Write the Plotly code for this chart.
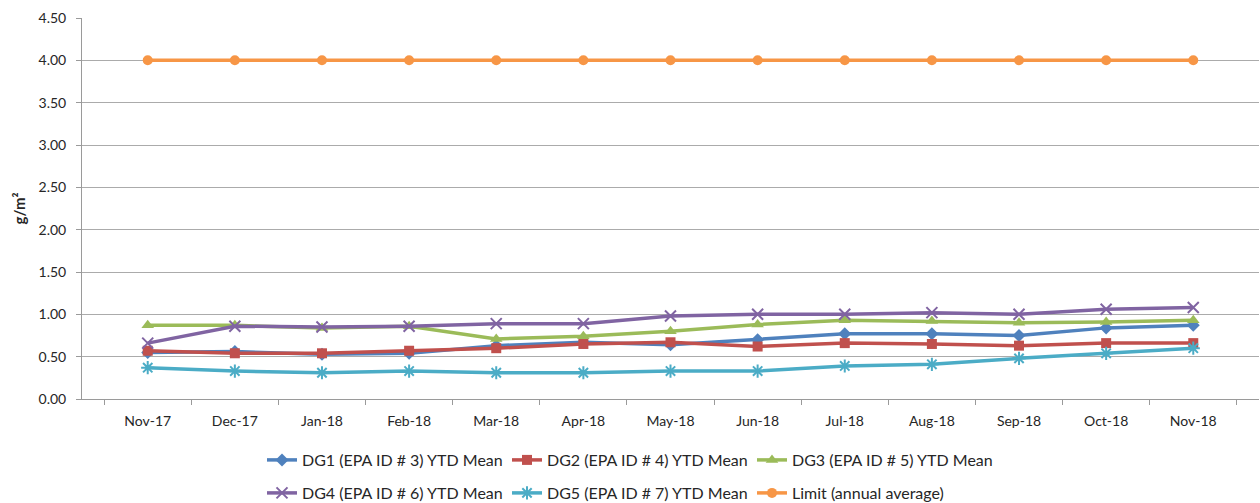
import plotly.graph_objects as go

months = ["Nov-17", "Dec-17", "Jan-18", "Feb-18", "Mar-18", "Apr-18", "May-18",
          "Jun-18", "Jul-18", "Aug-18", "Sep-18", "Oct-18", "Nov-18"]

dg1 = [0.55, 0.56, 0.53, 0.54, 0.63, 0.67, 0.64, 0.70, 0.77, 0.77, 0.75, 0.84, 0.87]
dg2 = [0.57, 0.54, 0.54, 0.57, 0.60, 0.65, 0.67, 0.62, 0.66, 0.65, 0.63, 0.66, 0.66]
dg3 = [0.87, 0.87, 0.84, 0.86, 0.71, 0.74, 0.80, 0.88, 0.93, 0.92, 0.90, 0.91, 0.93]
dg4 = [0.66, 0.86, 0.85, 0.86, 0.89, 0.89, 0.98, 1.00, 1.00, 1.02, 1.00, 1.06, 1.08]
dg5 = [0.37, 0.33, 0.31, 0.33, 0.31, 0.31, 0.33, 0.33, 0.39, 0.41, 0.48, 0.54, 0.60]
limit = [4.0] * 13
y_title = "g/m²"

series = [
    ("DG1 (EPA ID # 3) YTD Mean", dg1, "#4F81BD", "diamond", 10, "legend"),
    ("DG2 (EPA ID # 4) YTD Mean", dg2, "#C0504D", "square", 10, "legend"),
    ("DG3 (EPA ID # 5) YTD Mean", dg3, "#9BBB59", "triangle-up", 11, "legend"),
    ("DG4 (EPA ID # 6) YTD Mean", dg4, "#8064A2", "x-thin-open", 11, "legend2"),
    ("DG5 (EPA ID # 7) YTD Mean", dg5, "#4BACC6", "asterisk-open", 11, "legend2"),
    ("Limit (annual average)", limit, "#F79646", "circle", 10, "legend2"),
]

fig = go.Figure()
for name, vals, color, sym, size, leg in series:
    fig.add_trace(go.Scatter(
        x=months, y=vals, name=name, mode="lines+markers", legend=leg,
        line=dict(color=color, width=3.5),
        marker=dict(symbol=sym, size=size, color=color,
                    line=dict(color=color, width=2 if "open" in sym else 0)),
    ))

font = "Lato"
leg_common = dict(orientation="h", x=262 / 1260, xref="container", yref="container",
                  xanchor="left", yanchor="middle",
                  font=dict(size=16, family=font, color="#262626"),
                  entrywidth=200, itemwidth=30, bgcolor="rgba(0,0,0,0)")
fig.update_layout(
    width=1260, height=503, autosize=False,
    margin=dict(l=82, r=1, t=18, b=104, autoexpand=False),
    paper_bgcolor="white", plot_bgcolor="white",
    font=dict(family=font, size=14, color="#262626"),
    showlegend=True,
    legend=dict(y=1 - 460 / 503, **leg_common),
    legend2=dict(y=1 - 493 / 503, **leg_common),
    annotations=[dict(text="<b>" + y_title + "</b>", textangle=-90,
                      xref="paper", yref="paper", x=(18 - 82) / 1177, y=0.5,
                      xanchor="center", yanchor="middle", showarrow=False,
                      font=dict(size=15, family=font, color="#262626"))],
)
fig.update_xaxes(
    type="category", showline=True, linecolor="#9a9a9a", linewidth=1,
    ticks="outside", tickson="boundaries", ticklen=5, tickcolor="#9a9a9a",
    showgrid=False, tickfont=dict(size=14), ticklabelstandoff=9, automargin=False,
)
fig.update_yaxes(
    range=[0, 4.5], dtick=0.5, tickformat=".2f",
    showline=True, linecolor="#9a9a9a", linewidth=1,
    ticks="outside", ticklen=5, tickcolor="#9a9a9a",
    showgrid=True, gridcolor="#ababab", gridwidth=1,
    zeroline=False, tickfont=dict(size=14), automargin=False,
    ticklabelstandoff=7,
)
post = ("document.body.style.margin='0';document.body.style.overflow='hidden';"
        "Plotly.Plots.resize(document.getElementById('{plot_id}'));")
fig.write_html("out.html", config={"responsive": False, "displayModeBar": False},
               post_script=post)
